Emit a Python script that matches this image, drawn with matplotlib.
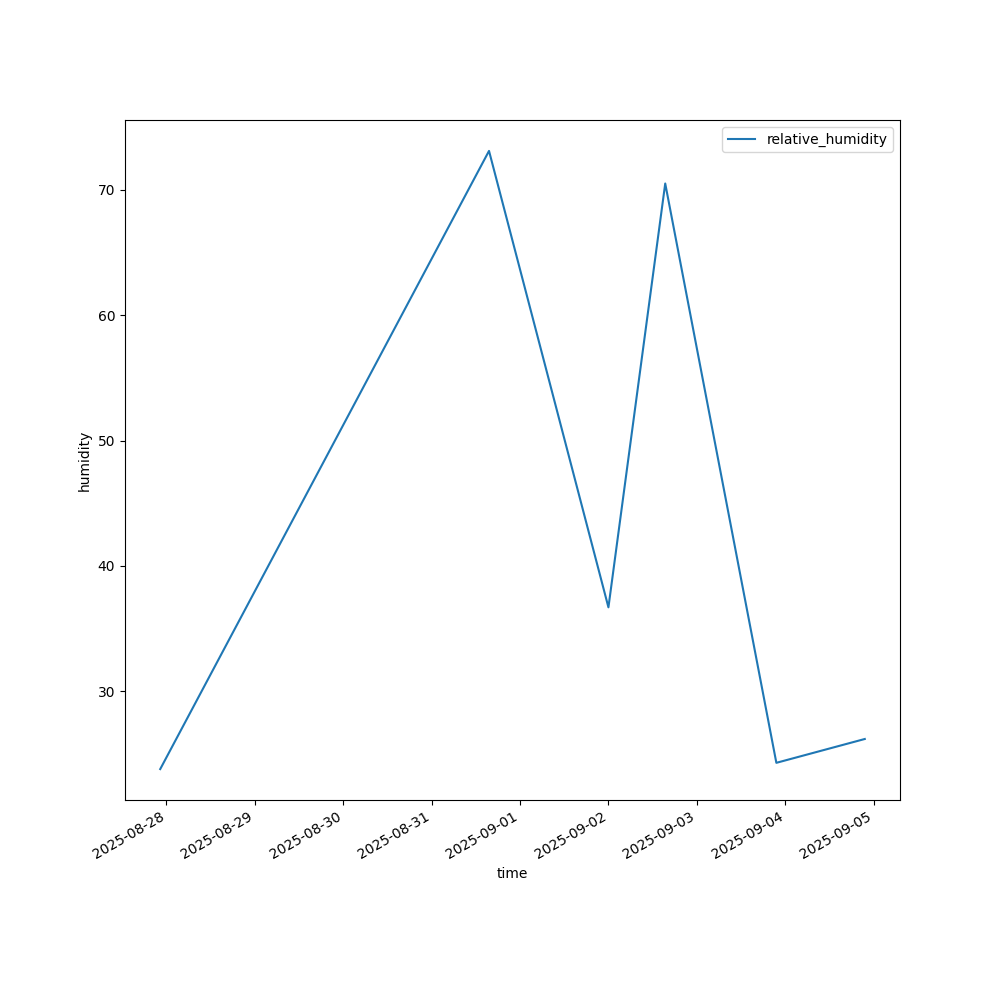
import pandas as pd
import matplotlib
matplotlib.use("Agg")
import matplotlib.pyplot as plt

# readings taken from the chart
times = pd.to_datetime([
    "2025-08-27 22:20",
    "2025-08-31 15:35",
    "2025-09-02 00:00",
    "2025-09-02 15:25",
    "2025-09-03 21:35",
    "2025-09-04 21:35",
])
humidity = [23.8, 73.1, 36.7, 70.5, 24.3, 26.2]

fig, ax = plt.subplots(figsize=(10, 10), dpi=100)
ax.plot(times, humidity, label="relative_humidity")
ax.set_xlabel("time")
ax.set_ylabel("humidity")
ax.legend(loc="upper right")
fig.autofmt_xdate()

fig.savefig("out.png")
